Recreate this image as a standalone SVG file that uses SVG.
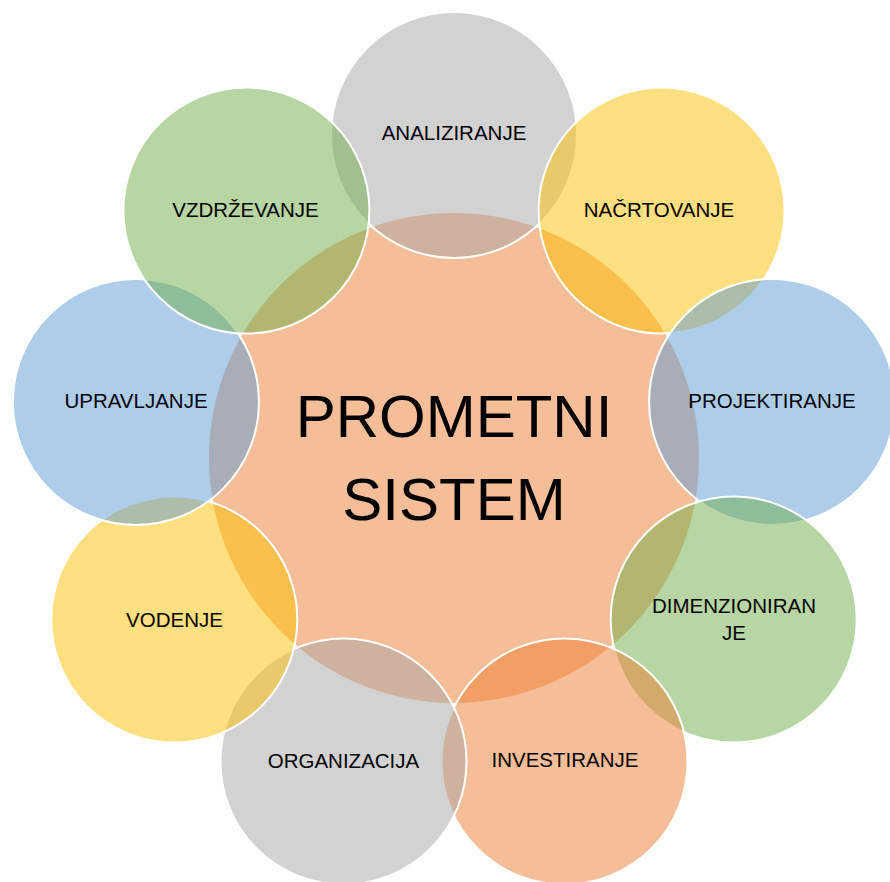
<svg xmlns="http://www.w3.org/2000/svg" width="890" height="882" viewBox="0 0 890 882">
<style>
  .c { stroke: #FFFFFF; stroke-width: 2; fill-opacity: 0.5; }
  .gray { fill: #A5A5A5; }
  .gold { fill: #FFC000; }
  .blue { fill: #5B9BD5; }
  .green { fill: #70AD47; }
  .orange { fill: #ED7D31; }
  .lbl { font-family: "Liberation Sans", Arial, sans-serif; font-size: 20.5px; fill: #000000; text-anchor: middle; }
  .main { font-family: "Liberation Sans", Arial, sans-serif; font-size: 60px; fill: #000000; text-anchor: middle; }
</style>
<rect width="890" height="882" fill="#FFFFFF"/>
<g id="prometni-sistem">
  <circle class="c orange" cx="454" cy="458" r="246"/>
  <text class="main" x="454" y="437">PROMETNI</text>
  <text class="main" x="454" y="520">SISTEM</text>
</g>
<g id="analiziranje">
  <circle class="c gray" cx="454" cy="135" r="123"/>
  <text class="lbl" x="454" y="140">ANALIZIRANJE</text>
</g>
<g id="nacrtovanje">
  <circle class="c gold" cx="661.6" cy="210.6" r="123"/>
  <text class="lbl" x="659" y="217">NAČRTOVANJE</text>
</g>
<g id="projektiranje">
  <circle class="c blue" cx="772.1" cy="401.9" r="123"/>
  <text class="lbl" x="772" y="408">PROJEKTIRANJE</text>
</g>
<g id="dimenzioniranje">
  <circle class="c green" cx="733.7" cy="619.5" r="123"/>
  <text class="lbl" x="734" y="612.5">DIMENZIONIRAN</text>
  <text class="lbl" x="734" y="640">JE</text>
</g>
<g id="investiranje">
  <circle class="c orange" cx="564.5" cy="761.5" r="123"/>
  <text class="lbl" x="565" y="767">INVESTIRANJE</text>
</g>
<g id="organizacija">
  <circle class="c gray" cx="343.5" cy="761.5" r="123"/>
  <text class="lbl" x="343.5" y="768">ORGANIZACIJA</text>
</g>
<g id="vodenje">
  <circle class="c gold" cx="174.3" cy="619.5" r="123"/>
  <text class="lbl" x="174.5" y="627">VODENJE</text>
</g>
<g id="upravljanje">
  <circle class="c blue" cx="135.9" cy="401.9" r="123"/>
  <text class="lbl" x="136" y="408">UPRAVLJANJE</text>
</g>
<g id="vzdrzevanje">
  <circle class="c green" cx="246.4" cy="210.6" r="123"/>
  <text class="lbl" x="245.5" y="217">VZDRŽEVANJE</text>
</g>
<g id="connectors"></g>
</svg>
